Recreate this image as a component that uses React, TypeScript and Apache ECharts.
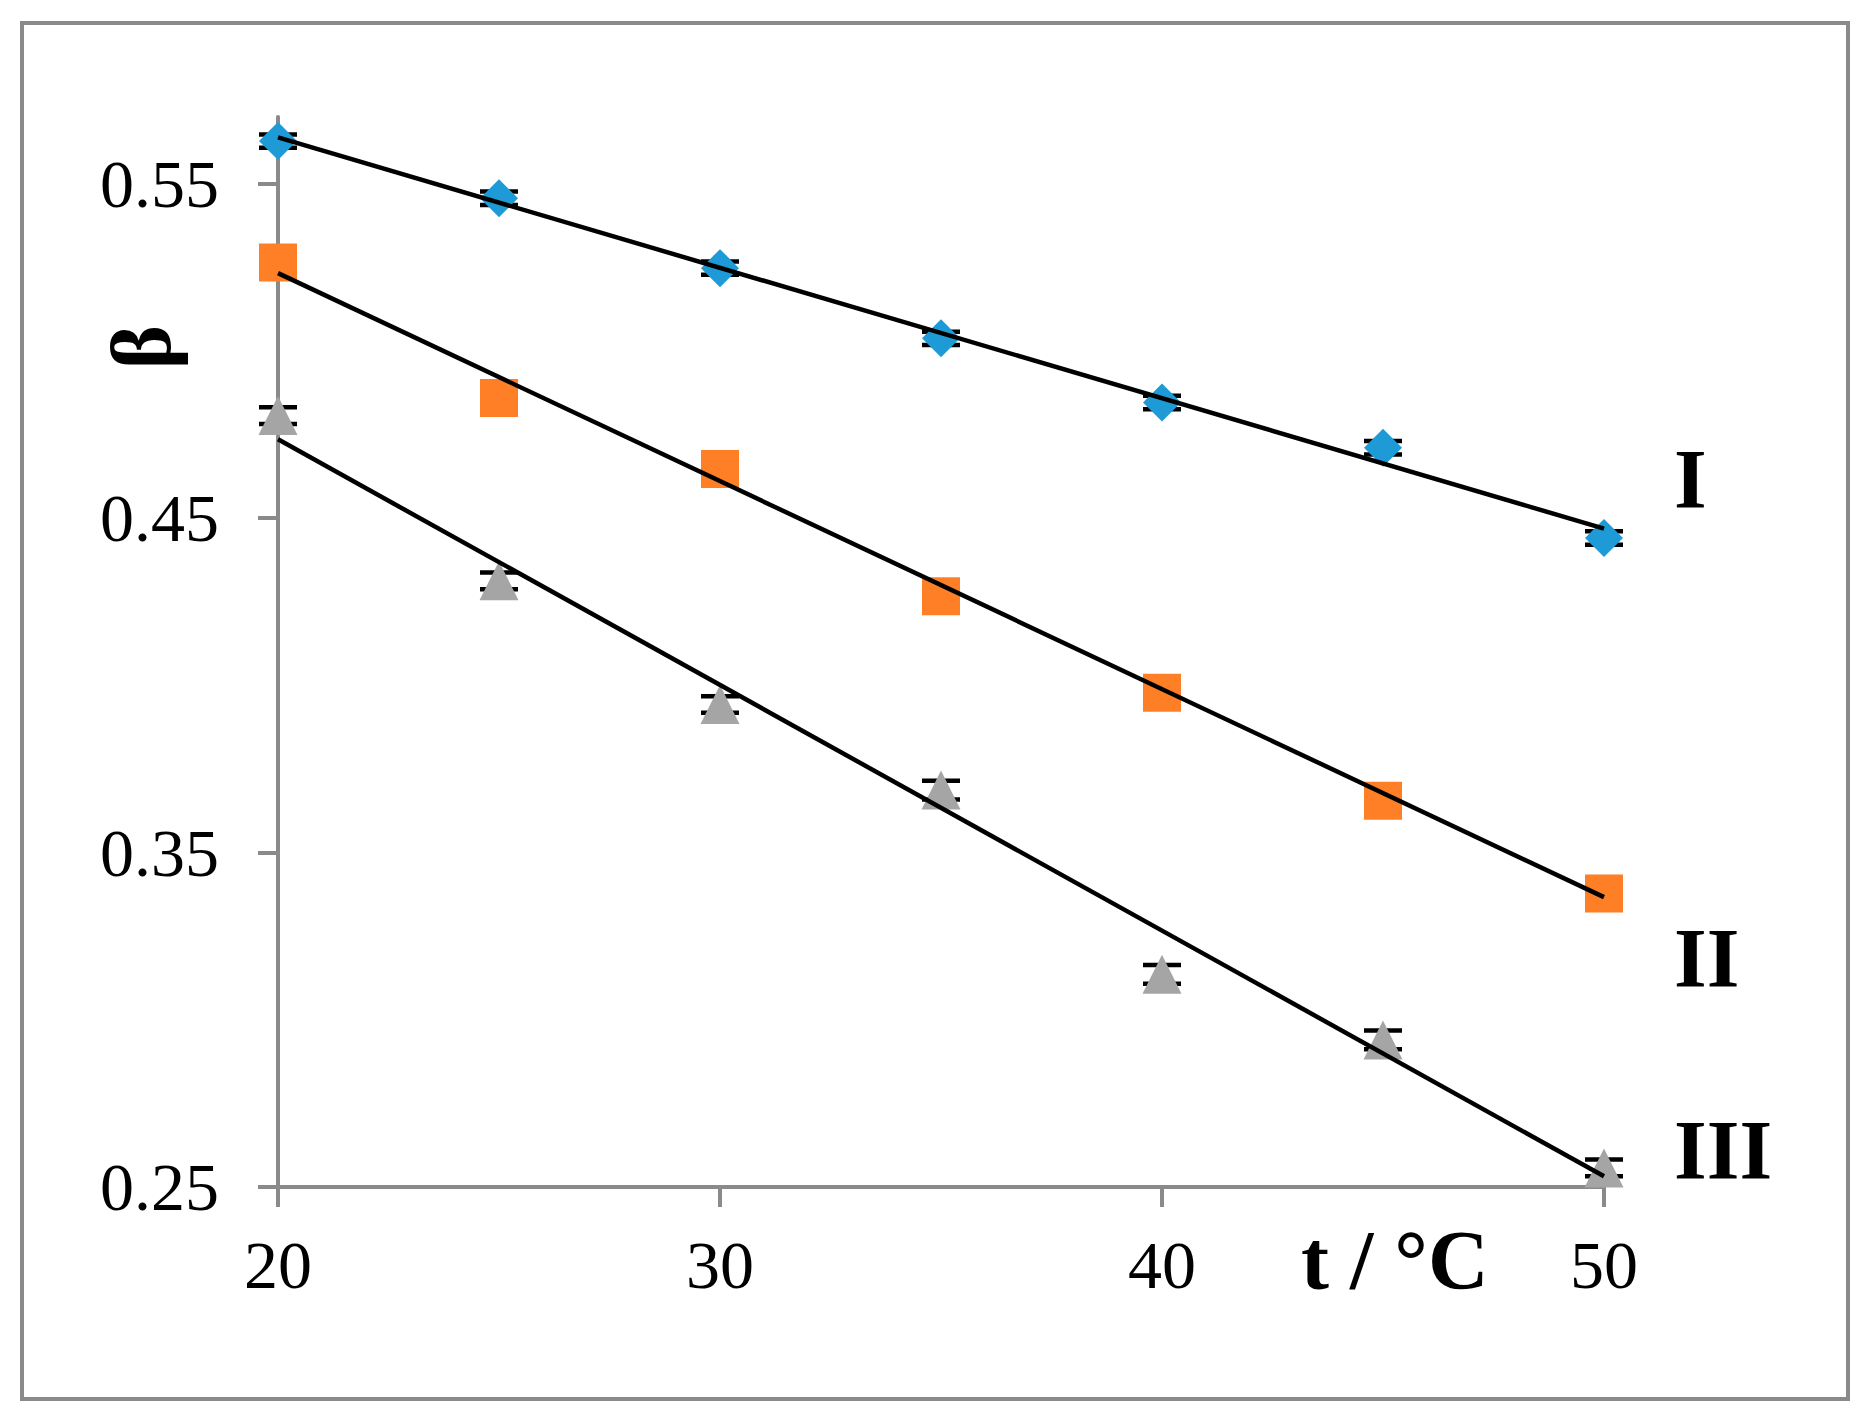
import React, { useEffect, useRef } from "react";
import * as echarts from "echarts";

const temps = [20, 25, 30, 35, 40, 45, 50];
const betaI = [0.5628, 0.5457, 0.5248, 0.5038, 0.4846, 0.4711, 0.4441];
const betaII = [0.5265, 0.486, 0.4647, 0.4267, 0.3978, 0.3655, 0.3378];
const betaIII = [0.4807, 0.4313, 0.3943, 0.3687, 0.3136, 0.294, 0.2557];
const errI = [0.002, 0.002, 0.002, 0.002, 0.002, 0.002, 0.002];
const errII = [0.002, 0.002, 0.002, 0.002, 0.002, 0.002, 0.002];
const errIII = [0.0025, 0.0025, 0.0025, 0.0028, 0.0028, 0.0028, 0.0025];
const trendX = [20, 50];
const trendI = [0.5639, 0.4469];
const trendII = [0.5233, 0.3367];
const trendIII = [0.4736, 0.2532];
const yTicks = [0.25, 0.35, 0.45, 0.55];
const xTicks = [20, 30, 40, 50];
const curveNames = ["I", "II", "III"];

const FONT = "Liberation Serif, Times New Roman, serif";
const AXIS_GRAY = "#8a8a8a";

function pairs(xs: number[], ys: number[], es?: number[]) {
  return xs.map((x, i) => (es ? [x, ys[i], es[i]] : [x, ys[i]]));
}

function errSeries(data: number[][]) {
  return {
    type: "custom",
    z: 2,
    clip: false,
    data,
    renderItem: (params: any, api: any) => {
      const x = api.value(0);
      const y = api.value(1);
      const e = api.value(2);
      const top = api.coord([x, y + e]);
      const bot = api.coord([x, y - e]);
      const hw = 19;
      const st = { stroke: "#000", lineWidth: 4.5 };
      return {
        type: "group",
        children: [
          { type: "line", shape: { x1: top[0], y1: top[1], x2: bot[0], y2: bot[1] }, style: { stroke: "#000", lineWidth: 3 } },
          { type: "line", shape: { x1: top[0] - hw, y1: top[1], x2: top[0] + hw, y2: top[1] }, style: st },
          { type: "line", shape: { x1: bot[0] - hw, y1: bot[1], x2: bot[0] + hw, y2: bot[1] }, style: st },
        ],
      };
    },
  };
}

function trend(ys: number[]) {
  return {
    type: "line",
    z: 5,
    clip: false,
    data: pairs(trendX, ys),
    symbol: "none",
    lineStyle: { color: "#000", width: 4.5 },
  };
}

function markers(ys: number[], symbol: string, size: number, color: string) {
  return {
    type: "scatter",
    z: 3,
    clip: false,
    data: pairs(temps, ys),
    symbol,
    symbolSize: [size, size],
    itemStyle: { color, opacity: 1 },
    emphasis: { disabled: true },
  };
}

export default function App() {
  const ref = useRef<HTMLDivElement>(null);
  useEffect(() => {
    const chart = echarts.init(ref.current!, null, { renderer: "svg" });
    const textStyle = (t: string) => ({
      text: t,
      font: `bold 84px ${FONT}`,
      fill: "#000",
      align: "left",
      verticalAlign: "middle",
    });
    const option: any = {
      animation: false,
      backgroundColor: "#fff",
      textStyle: { fontFamily: FONT },
      grid: { left: 278, top: 117, width: 1326, height: 1070, containLabel: false },
      xAxis: {
        type: "value",
        min: 20,
        max: 50,
        interval: 10,
        axisLine: { lineStyle: { color: AXIS_GRAY, width: 4 } },
        axisTick: { show: true, length: 20, lineStyle: { color: AXIS_GRAY, width: 4 }, customValues: xTicks },
        axisLabel: {
          customValues: xTicks,
          margin: 78,
          verticalAlign: "middle",
          color: "#000",
          fontFamily: FONT,
          fontSize: 68,
        },
        splitLine: { show: false },
      },
      yAxis: {
        type: "value",
        min: 0.25,
        max: 0.57,
        interval: 0.1,
        axisLine: { lineStyle: { color: AXIS_GRAY, width: 4 } },
        axisTick: { show: true, length: 20, lineStyle: { color: AXIS_GRAY, width: 4 }, customValues: yTicks },
        axisLabel: {
          customValues: yTicks,
          margin: 59,
          color: "#000",
          fontFamily: FONT,
          fontSize: 68,
          formatter: (v: number) => v.toFixed(2),
        },
        splitLine: { show: false },
      },
      series: [
        errSeries(pairs(temps, betaI, errI)),
        errSeries(pairs(temps, betaII, errII)),
        errSeries(pairs(temps, betaIII, errIII)),
        markers(betaI, "diamond", 38, "#1E9BD7"),
        markers(betaII, "rect", 38, "#FF7F27"),
        markers(betaIII, "triangle", 39, "#A5A5A5"),
        trend(trendI),
        trend(trendII),
        trend(trendIII),
      ],
      graphic: [
        {
          type: "rect",
          shape: { x: 22, y: 23, width: 1826, height: 1376 },
          style: { fill: "none", stroke: AXIS_GRAY, lineWidth: 4 },
          silent: true,
          z: 0,
        },
        {
          type: "text",
          x: 141,
          y: 347,
          rotation: Math.PI / 2,
          style: { ...textStyle("β"), align: "center" },
        },
        { type: "text", x: 1301, y: 1260, style: textStyle("t / °C") },
        { type: "text", x: 1674, y: 479, style: textStyle(curveNames[0]) },
        { type: "text", x: 1674, y: 958, style: textStyle(curveNames[1]) },
        { type: "text", x: 1674, y: 1150, style: textStyle(curveNames[2]) },
      ],
    };
    chart.setOption(option);
    return () => chart.dispose();
  }, []);
  return (
    <div
      ref={ref}
      style={{ position: "fixed", left: 0, top: 0, width: 1866, height: 1419, background: "#fff" }}
    />
  );
}
